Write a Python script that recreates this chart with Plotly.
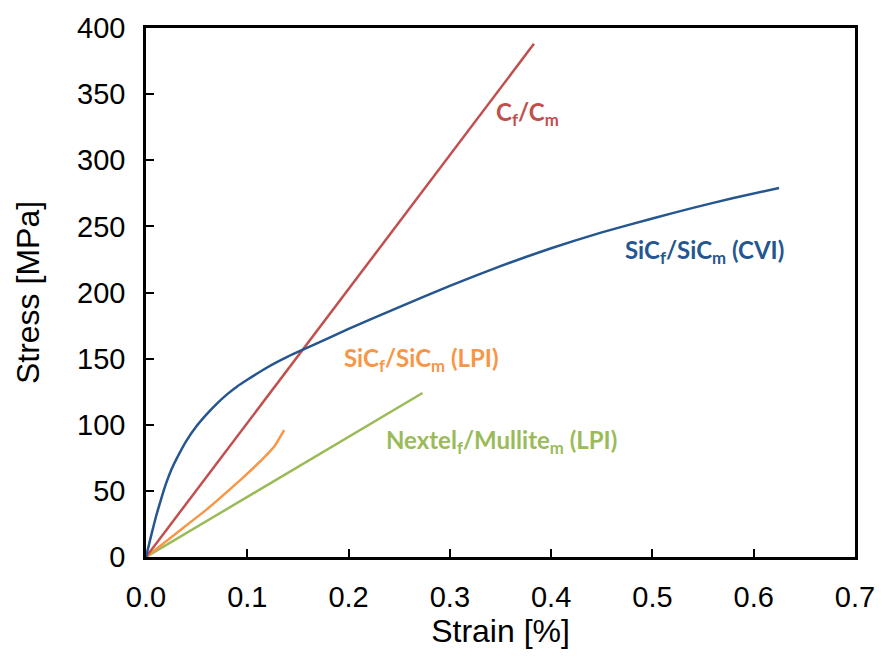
import plotly.graph_objects as go

# Tensile stress-strain curves of ceramic matrix composites
strain_cc = [0.0, 0.383]
stress_cc = [0.0, 388.0]

strain_sic_cvi = [0.0, 0.005, 0.01, 0.015, 0.02, 0.025, 0.03, 0.04, 0.05, 0.06, 0.07,
                  0.08, 0.09, 0.1, 0.12, 0.14, 0.16, 0.2, 0.25, 0.3, 0.35, 0.4,
                  0.45, 0.5, 0.54, 0.58, 0.625]
stress_sic_cvi = [0.0, 16.0, 31.0, 44.0, 56.0, 66.0, 74.0, 88.0, 99.0, 108.0, 116.0,
                  123.0, 129.0, 134.0, 143.5, 151.5, 158.5, 172.5, 189.0, 205.0, 220.0, 233.5,
                  245.5, 256.0, 264.0, 271.5, 279.0]

strain_sic_lpi = [0.0, 0.03, 0.06, 0.09, 0.1, 0.115, 0.127, 0.1364]
stress_sic_lpi = [0.0, 18.0, 36.0, 56.0, 63.0, 74.0, 84.0, 96.0]

strain_nextel = [0.0, 0.273]
stress_nextel = [0.0, 124.0]

x_ticks = [0.0, 0.1, 0.2, 0.3, 0.4, 0.5, 0.6, 0.7]
x_tick_text = ["0.0", "0.1", "0.2", "0.3", "0.4", "0.5", "0.6", "0.7"]
y_ticks = [0, 50, 100, 150, 200, 250, 300, 350, 400]

RED = "#C0504D"
BLUE = "#25568F"
ORANGE = "#F79646"
GREEN = "#9BBB59"

fig = go.Figure()
series = [
    (strain_nextel, stress_nextel, GREEN),
    (strain_sic_lpi, stress_sic_lpi, ORANGE),
    (strain_cc, stress_cc, RED),
    (strain_sic_cvi, stress_sic_cvi, BLUE),
]
for xs, ys, col in series:
    fig.add_trace(go.Scatter(x=xs, y=ys, mode="lines",
                             line=dict(color=col, width=2.5, shape="spline", smoothing=0.4),
                             showlegend=False, hoverinfo="skip"))

label_font = "Lato, Open Sans, sans-serif"
labels = [
    (0.377, 335, "C<sub>f</sub>/C<sub>m</sub>", RED),
    (0.551, 231, "SiC<sub>f</sub>/SiC<sub>m</sub> (CVI)", BLUE),
    (0.272, 149, "SiC<sub>f</sub>/SiC<sub>m</sub> (LPI)", ORANGE),
    (0.351, 87, "Nextel<sub>f</sub>/Mullite<sub>m</sub> (LPI)", GREEN),
]
for x, y, txt, col in labels:
    fig.add_annotation(x=x, y=y, text="<b>" + txt + "</b>", showarrow=False,
                       font=dict(family=label_font, size=24, color=col),
                       xanchor="center", yanchor="middle")

axis_font = "Arial, Liberation Sans, sans-serif"
axis_common = dict(
    showline=True, linecolor="black", linewidth=2.5, mirror=True,
    ticks="inside", ticklen=8, tickwidth=2, tickcolor="black",
    showgrid=False, zeroline=False,
    tickfont=dict(family=axis_font, size=29, color="black"),
)

fig.update_xaxes(range=[0, 0.7], tickvals=x_ticks, ticktext=x_tick_text,
                 title=dict(text="Strain [%]", standoff=3,
                            font=dict(family=axis_font, size=32, color="black")),
                 ticklabelstandoff=12, **axis_common)
fig.update_yaxes(range=[0, 400], tickvals=y_ticks,
                 title=dict(text="Stress [MPa]", standoff=28,
                            font=dict(family=axis_font, size=32, color="black")),
                 ticklabelstandoff=12, **axis_common)

fig.update_layout(
    width=887, height=666,
    margin=dict(l=146, r=21, t=22, b=109),
    plot_bgcolor="white", paper_bgcolor="white",
)

fig.write_html("out.html")
